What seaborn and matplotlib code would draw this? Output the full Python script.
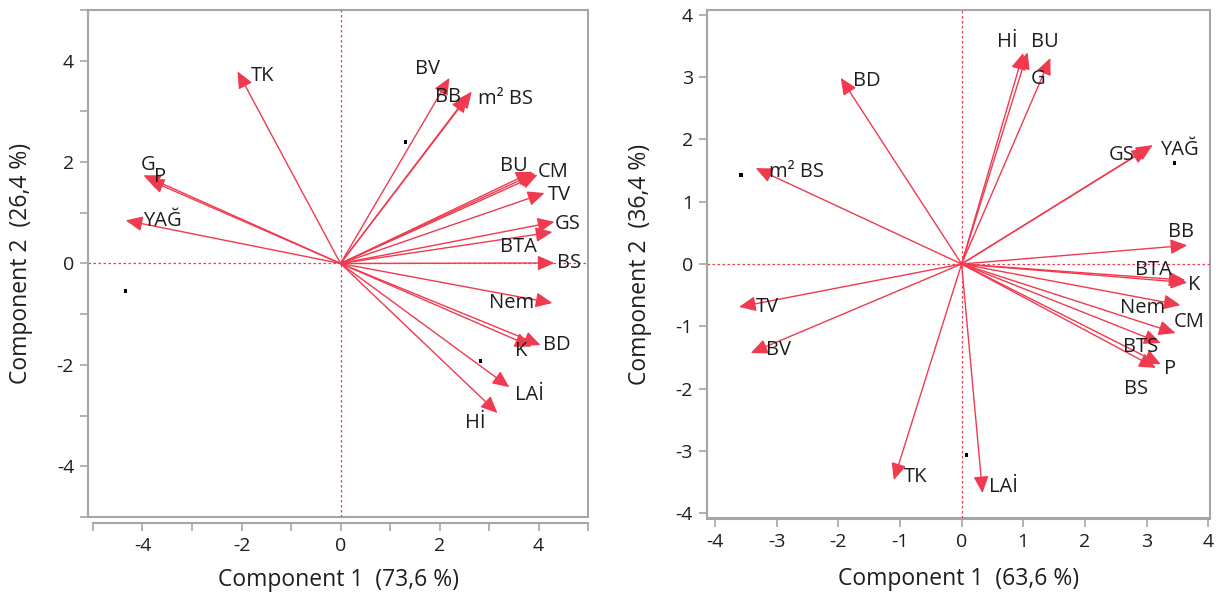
import numpy as np
import pandas as pd
import seaborn as sns
import matplotlib
matplotlib.use('Agg')
import matplotlib.pyplot as plt
from matplotlib.ticker import MultipleLocator

# left biplot (loadings)
left_labels = ['TK', 'G', 'P', 'YAĞ', 'BV', 'BB', 'm² BS', 'BU', 'CM', 'BTS', 'TV', 'GS',
               'BTA', 'BS', 'Nem', 'BD', 'K', 'LAİ', 'Hİ']
left_x = [-2.08, -3.98, -3.90, -4.34, 2.20, 2.57, 2.65, 3.88, 3.98, 3.93, 4.12, 4.32,
          4.28, 4.32, 4.28, 4.04, 3.86, 3.41, 3.17]
left_y = [3.79, 1.74, 1.66, 0.85, 3.66, 3.31, 3.39, 1.81, 1.75, 1.78, 1.39, 0.82,
          0.62, 0.01, -0.78, -1.61, -1.64, -2.44, -2.95]
left_scores_x = [1.31, -4.34, 2.83]
left_scores_y = [2.40, -0.54, -1.92]

# right biplot
right_labels = ['Hİ', 'BU', 'G', 'BD', 'm² BS', 'GS', 'YAĞ', 'BB', 'BTA', 'K', 'Nem', 'CM',
                'BTS', 'P', 'BS', 'TV', 'BV', 'TK', 'LAİ']
right_x = [1.00, 1.07, 1.44, -1.96, -3.34, 3.03, 3.10, 3.66, 3.63, 3.66, 3.55, 3.47,
           3.23, 3.23, 3.15, -3.61, -3.42, -1.10, 0.34]
right_y = [3.39, 3.40, 3.31, 2.99, 1.54, 1.86, 1.91, 0.30, -0.26, -0.30, -0.66, -1.11,
           -1.27, -1.61, -1.67, -0.69, -1.43, -3.47, -3.68]
right_scores_x = [-3.58, 3.45, 0.08]
right_scores_y = [1.43, 1.62, -3.07]

# label placement (pixels from arrow tip), None = label hidden
left_offsets = {'TK': (13, -5), 'G': (-3, 10), 'P': (7, 2), 'YAĞ': (17, -1), 'BV': (-34, 9),
                'BB': (-33, -1), 'm² BS': (6, -7), 'BU': (-33, 6), 'CM': (0, 3), 'BTS': None,
                'TV': (3, -2), 'GS': (0, -2), 'BTA': (-52, -15), 'BS': (3, 0), 'Nem': (-63, 0),
                'BD': (2, 0), 'K': (-17, -4), 'LAİ': (6, -8), 'Hİ': (-32, -10)}
right_offsets = {'Hİ': (-26, 11), 'BU': (3, 10), 'G': (-20, -21), 'BD': (12, -3), 'm² BS': (13, -4),
                 'GS': (-40, -7), 'YAĞ': (7, -5), 'BB': (-19, 13), 'BTA': (-50, 10), 'K': (1, -2),
                 'Nem': (-60, -3), 'CM': (-2, 11), 'BTS': (-38, -4), 'P': (3, -5), 'BS': (-32, -21),
                 'TV': (17, 0), 'BV': (15, 3), 'TK': (10, 3), 'LAİ': (6, 6)}

RED = '#ef3a4f'
GRAY = '#a6a6a6'
INK = '#1e1e1e'

sns.set_theme(style='white')
plt.rcParams['font.family'] = ['Open Sans', 'DejaVu Sans']
plt.rcParams['axes.unicode_minus'] = False

fig = plt.figure(figsize=(12.16, 5.96), dpi=100)
ax1 = fig.add_axes([0.0724, 0.1326, 0.4112, 0.8506])
ax2 = fig.add_axes([0.5814, 0.1309, 0.4137, 0.8523])


def biplot(ax, labels, xs, ys, sx, sy, offsets, xlim, ylim, xticks, yticks, xlab, ylab,
           bottom_off, xpad):
    ax.axhline(0, color=RED, lw=0.9, ls=(0, (2, 2)), zorder=1)
    ax.axvline(0, color=RED, lw=0.9, ls=(0, (2, 2)), zorder=1)
    for lab, x, y in zip(labels, xs, ys):
        ax.annotate('', xy=(x, y), xytext=(0, 0),
                    arrowprops=dict(arrowstyle='-|>,head_length=0.85,head_width=0.38',
                                    color=RED, lw=1.0, shrinkA=0, shrinkB=0), zorder=3)
        off = offsets[lab]
        if off is not None:
            ax.annotate(lab, xy=(x, y), xytext=off, textcoords='offset pixels',
                        ha='left', va='center', fontsize=14.5, color=INK, zorder=4)
    df = pd.DataFrame({'x': sx, 'y': sy})
    sns.scatterplot(data=df, x='x', y='y', ax=ax, color='black', s=6, marker='s',
                    edgecolor='none', zorder=5)
    ax.set_xlim(*xlim)
    ax.set_ylim(*ylim)
    ax.set_xticks(xticks)
    ax.set_yticks(yticks)
    ax.set_xlabel(xlab, fontsize=16.5, color=INK, labelpad=xpad)
    ax.set_ylabel(ylab, fontsize=16.5, color=INK, labelpad=17)
    ax.patch.set_edgecolor(GRAY)
    ax.patch.set_linewidth(1.5)
    ax.spines['top'].set_visible(False)
    ax.spines['right'].set_visible(False)
    for s in ('left', 'bottom'):
        ax.spines[s].set_color(GRAY)
        ax.spines[s].set_linewidth(1.5)
    ax.spines['bottom'].set_position(('outward', bottom_off))
    ax.tick_params(which='both', direction='out', length=6, width=1.2, color=GRAY,
                   labelsize=14, labelcolor=INK, bottom=True, left=True, pad=4)
    for t, v in zip(ax.xaxis.get_major_ticks(), xticks):
        if v == 0:
            t.tick1line.set_color(RED)
    for t, v in zip(ax.yaxis.get_major_ticks(), yticks):
        if v == 0:
            t.tick1line.set_color(RED)


biplot(ax1, left_labels, left_x, left_y, left_scores_x, left_scores_y, left_offsets,
       (-5.1, 5.0), (-5.0, 5.0), [-4, -2, 0, 2, 4], [-4, -2, 0, 2, 4],
       'Component 1  (73,6 %)', 'Component 2  (26,4 %)', 4.5, 9)
ax1.xaxis.set_minor_locator(MultipleLocator(1))
ax1.yaxis.set_minor_locator(MultipleLocator(1))
ax1.spines['bottom'].set_bounds(-5, 5)

biplot(ax2, right_labels, right_x, right_y, right_scores_x, right_scores_y, right_offsets,
       (-4.13, 4.03), (-4.08, 4.08), list(range(-4, 5)), list(range(-4, 5)),
       'Component 1  (63,6 %)', 'Component 2  (36,4 %)', 0.5, 12)

fig.savefig('out.png', dpi=100)
